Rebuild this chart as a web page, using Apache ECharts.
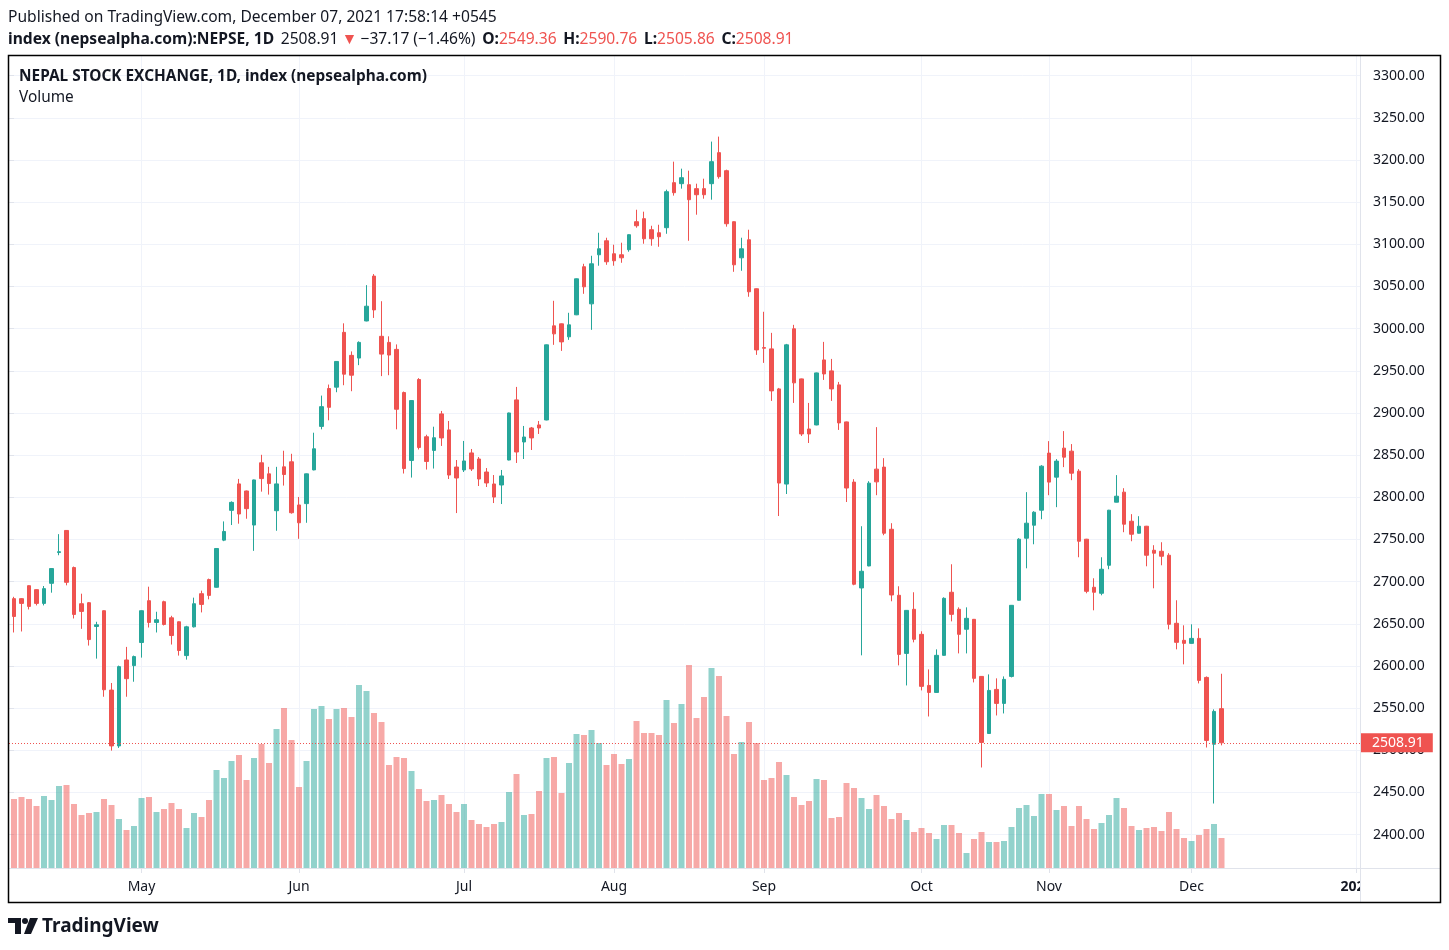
<!DOCTYPE html>
<html><head><meta charset="utf-8">
<script src="https://cdn.jsdelivr.net/npm/echarts@6/dist/echarts.min.js"></script>
<style>html,body{margin:0;padding:0;background:#fff}#c{width:1449px;height:950px}</style>
</head><body><div id="c"></div>
<script>
// ---- categories: trading days (Sun–Thu, NEPSE) ----
const tradingDays = [
  ['2021-04', [6,7,8,11,12,13,15,18,19,20,21,22,25,26,27,28,29]],
  ['2021-05', [2,3,4,5,6,9,10,11,12,13,16,17,18,19,20,23,24,25,27,30,31]],
  ['2021-06', [1,2,3,6,7,8,9,10,13,14,15,16,17,20,21,22,23,24,27,28,29,30]],
  ['2021-07', [1,4,5,6,7,8,11,12,13,14,15,18,19,21,22,25,26,27,28,29]],
  ['2021-08', [1,2,3,4,5,8,9,10,11,12,15,16,17,18,19,24,25,26,29,31]],
  ['2021-09', [1,2,5,6,7,8,12,13,14,15,16,19,20,21,22,23,26,27,28,29,30]],
  ['2021-10', [3,4,5,6,10,11,17,18,19,20,21,24,25,26,27,28,31]],
  ['2021-11', [1,2,8,9,10,11,14,15,16,17,18,21,22,23,24,25,28,29,30]],
  ['2021-12', [1,2,5,6,7]]
];
const futureDays = ['2021-12-08','2021-12-09','2021-12-12','2021-12-13','2021-12-14','2021-12-15','2021-12-16',
  '2021-12-19','2021-12-20','2021-12-21','2021-12-22','2021-12-23','2021-12-26','2021-12-27','2021-12-28',
  '2021-12-29','2021-12-30','2022-01-02'];
const monthNames = ['Jan','Feb','Mar','Apr','May','Jun','Jul','Aug','Sep','Oct','Nov','Dec'];

// ---- OHLC ----
const open = [
2679.8,2679.8,2695.2,2690.5,2674.2,2698.0,2734.5,2760.7,2716.7,2673.8,
2675.0,2646.8,2665.5,2571.4,2505.2,2607.1,2600.4,2627.8,2677.4,2651.6,
2676.2,2657.1,2652.4,2612.3,2646.4,2685.7,2702.4,2693.3,2749.2,2784.5,
2815.9,2807.5,2767.1,2840.9,2827.8,2784.1,2836.1,2842.1,2790.9,2792.5,
2832.5,2884.1,2929.0,2930.6,2995.6,2968.3,2965.1,3009.1,3062.3,2990.9,
2983.7,2975.4,2924.2,2843.7,2939.7,2871.8,2855.6,2898.9,2879.9,2835.9,
2832.4,2852.6,2845.4,2830.0,2815.8,2814.6,2844.2,2915.5,2865.6,2882.2,
2885.8,2891.7,3003.3,3005.7,2990.3,3016.4,3073.4,3029.4,3087.6,3104.2,
3088.8,3087.6,3093.6,3126.8,3130.4,3117.3,3113.7,3119.7,3173.1,3171.9,
3170.7,3166.0,3166.0,3171.9,3208.7,3187.3,3126.8,3084.0,3105.4,3047.3,
2977.5,2976.0,2928.5,2815.7,2999.8,2940.4,2881.0,2885.8,2962.9,2949.9,
2933.3,2889.4,2818.0,2692.5,2718.6,2833.4,2835.8,2762.1,2683.8,2614.9,
2667.2,2637.5,2576.9,2568.6,2612.6,2687.4,2667.2,2643.5,2655.3,2587.6,
2519.9,2572.2,2555.6,2587.6,2677.9,2751.5,2766.9,2784.7,2852.4,2823.9,
2858.3,2854.7,2831.0,2750.3,2693.3,2686.2,2719.4,2794.2,2806.1,2771.6,
2757.4,2765.7,2737.2,2736.0,2731.3,2650.6,2630.4,2626.8,2632.7,2586.4,
2507.2,2549.36];
const close = [
2658.7,2674.2,2670.6,2674.2,2691.7,2715.5,2735.5,2699.2,2661.1,2664.7,
2631.3,2648.8,2571.8,2505.2,2599.2,2584.9,2611.1,2665.5,2651.6,2654.8,
2649.2,2636.1,2618.3,2646.4,2673.8,2673.0,2683.7,2739.3,2759.5,2794.0,
2780.2,2786.5,2820.6,2822.2,2816.3,2815.9,2827.0,2781.7,2769.8,2827.8,
2857.5,2907.5,2906.7,2961.1,2946.0,2944.8,2983.7,3026.6,3022.2,2969.8,
2968.7,2904.4,2834.1,2914.7,2859.1,2842.5,2870.6,2870.4,2826.4,2822.9,
2843.1,2833.6,2821.7,2817.0,2800.3,2825.3,2900.0,2853.7,2871.5,2870.4,
2882.2,2980.8,2993.8,2984.3,3004.5,3059.1,3049.6,3076.9,3094.7,3079.3,
3080.5,3084.0,3111.4,3122.0,3106.6,3106.6,3109.0,3162.4,3161.2,3179.0,
3152.9,3158.8,3158.8,3198.0,3180.2,3124.4,3075.7,3094.7,3043.7,2974.8,
2976.8,2926.2,2816.9,2980.8,2935.7,2875.1,2875.1,2947.5,2946.3,2928.5,
2888.2,2811.0,2696.9,2712.3,2816.8,2818.3,2757.4,2684.2,2613.7,2665.9,
2631.6,2575.8,2568.6,2612.6,2680.2,2661.2,2637.5,2656.5,2585.3,2509.3,
2571.0,2555.6,2584.1,2671.9,2750.3,2769.3,2782.3,2836.9,2818.0,2842.9,
2847.6,2828.6,2747.9,2688.5,2687.4,2714.7,2784.7,2801.3,2768.1,2756.2,
2765.7,2731.3,2733.7,2730.1,2649.4,2628.0,2626.8,2632.7,2582.9,2511.7,
2546.08,2508.91];
const low = [
2639.7,2640.9,2667.0,2671.8,2671.8,2686.9,2731.3,2695.6,2656.3,2644.0,
2624.2,2608.7,2563.5,2499.6,2502.8,2563.5,2581.3,2609.9,2645.6,2639.7,
2648.0,2625.4,2612.3,2607.5,2645.6,2663.5,2679.0,2692.9,2748.0,2767.1,
2768.7,2774.6,2736.5,2806.7,2803.2,2760.3,2813.9,2780.6,2750.8,2769.8,
2832.0,2880.6,2891.3,2924.6,2932.9,2925.8,2956.7,3008.7,3012.7,2943.7,
2944.8,2880.6,2828.2,2823.4,2856.7,2832.9,2834.1,2860.9,2821.7,2781.3,
2830.0,2831.2,2813.4,2812.2,2793.2,2792.0,2843.8,2840.7,2845.4,2856.1,
2875.1,2891.3,2980.8,2973.6,2986.7,3016.0,3041.3,2998.6,3074.6,3075.7,
3074.6,3078.1,3091.2,3119.7,3100.7,3098.3,3097.1,3112.5,3157.7,3166.0,
3104.2,3135.1,3154.1,3152.9,3177.8,3120.9,3067.4,3068.6,3037.8,2968.9,
2959.4,2914.3,2777.8,2803.9,2911.9,2872.7,2864.4,2885.4,2939.2,2914.3,
2879.9,2794.4,2695.7,2612.6,2718.2,2802.5,2755.0,2676.7,2600.7,2576.9,
2628.0,2571.0,2540.1,2568.2,2612.2,2652.9,2614.9,2614.9,2580.5,2479.6,
2519.5,2541.3,2543.7,2586.4,2677.5,2715.8,2744.3,2774.0,2802.5,2788.3,
2835.8,2820.3,2728.9,2686.2,2666.0,2683.8,2714.7,2794.0,2758.6,2747.9,
2757.0,2718.2,2692.1,2719.4,2643.4,2619.7,2601.9,2626.4,2579.3,2503.3,
2436.9,2505.86];
const high = [
2682.0,2680.5,2695.6,2690.9,2694.8,2716.0,2756.3,2761.0,2717.9,2685.7,
2675.8,2652.4,2665.9,2579.8,2600.4,2622.6,2612.3,2666.0,2694.0,2664.3,
2677.4,2659.5,2652.8,2647.6,2681.0,2689.3,2703.6,2739.7,2771.4,2795.2,
2821.8,2808.0,2821.0,2850.4,2836.1,2836.1,2855.2,2851.6,2800.4,2828.2,
2876.6,2920.6,2933.7,2961.5,3006.3,2973.0,2984.9,3051.6,3064.7,3032.5,
2990.9,2981.3,2925.4,2915.1,2941.3,2874.2,2883.7,2902.4,2890.5,2844.2,
2866.8,2857.3,2847.8,2834.7,2826.4,2832.4,2900.4,2930.9,2884.6,2883.4,
2890.5,2981.2,3033.0,3006.1,3018.8,3059.5,3076.9,3086.4,3113.7,3107.8,
3099.5,3101.9,3111.8,3141.0,3138.7,3122.0,3123.2,3164.8,3198.0,3189.7,
3187.3,3171.9,3177.8,3221.8,3227.7,3188.5,3127.2,3107.8,3117.3,3047.7,
3020.0,2995.0,2929.7,2981.9,3004.5,2940.8,2911.9,2947.9,2984.3,2964.1,
2936.8,2889.8,2821.5,2765.7,2819.1,2883.2,2846.4,2769.3,2694.5,2666.3,
2687.4,2641.1,2595.9,2619.7,2681.4,2720.6,2669.5,2669.5,2655.7,2588.0,
2590.0,2585.3,2587.6,2672.3,2751.5,2806.1,2783.5,2838.1,2866.6,2845.3,
2878.5,2863.1,2833.4,2750.7,2704.0,2728.9,2785.1,2826.3,2810.8,2780.0,
2777.6,2766.1,2743.2,2746.7,2733.7,2677.9,2648.2,2649.4,2644.6,2587.6,
2548.5,2590.76];
// ---- volume (relative units) ----
const volume = [
69,71,69,62,72,68,82,83,64,53,
55,56,69,63,49,38,42,70,71,56,
59,65,59,40,55,51,68,98,90,107,
113,88,110,124,105,139,160,128,81,107,
159,162,149,159,160,151,183,177,155,146,
103,111,110,97,79,67,68,73,64,56,
64,48,44,41,44,46,76,94,53,54,
77,110,111,75,105,134,133,138,125,103,
114,104,109,147,135,135,133,168,145,164,
203,150,171,200,192,152,114,126,146,125,
88,90,106,93,71,63,67,89,88,50,
51,85,80,70,59,73,62,49,55,48,
36,40,35,29,43,43,35,15,29,36,
26,26,27,41,60,63,52,74,74,58,
62,42,62,49,39,45,53,70,60,42,
38,40,41,37,56,39,30,27,33,39,
44,30];
// ---- price axis ticks ----
const priceMin = 2350, priceMax = 3350, priceStep = 50;

const UP = '#26A69A', DOWN = '#EF5350';
const UP_V = 'rgba(38,166,154,0.5)', DOWN_V = 'rgba(239,83,80,0.5)';
const TXT = '#131722', GRID = '#F0F3FA', LINE = '#E0E3EB';
const FONT = "'Noto Sans', sans-serif";

const dates = tradingDays.flatMap(([m, ds]) => ds.map(d => m + '-' + String(d).padStart(2, '0'))).concat(futureDays);
const isMonthStart = i => i > 0 && dates[i].slice(0, 7) !== dates[i - 1].slice(0, 7);
const candles = open.map((o, i) => [o, close[i], low[i], high[i]]);
const vols = volume.map((v, i) => ({ value: v, itemStyle: { color: close[i] >= open[i] ? UP_V : DOWN_V } }));
const n = close.length;
const lastC = close[n - 1], prevC = close[n - 2];
const chg = lastC - prevC, pct = chg / prevC * 100;
const fmt = v => v.toFixed(2);
const neg = v => (v < 0 ? '\u2212' : '+') + Math.abs(v).toFixed(2);

// plot geometry
const step = 7.5, firstX = 14, plotL = 9, plotR = 1360, plotT = 56, plotB = 868;
const lastX = firstX + (dates.length - 1) * step;
// price pixel scale: 2800 at y=497.3, 0.8433 px per point
const pxPer = 0.8433, refP = 2800, refY = 497.3;
const yOf = p => refY - (p - refP) * pxPer;
const pAtY = y => refP - (y - refY) / pxPer;

const HF = '15.6px ' + FONT, HFB = 'bold 15.6px ' + FONT;

const chart = echarts.init(document.getElementById('c'));
chart.setOption({
  backgroundColor: '#fff',
  animation: false,
  grid: [
    { left: firstX, right: 1449 - lastX, top: plotT, height: plotB - plotT, containLabel: false },
    { left: plotL, right: 1449 - plotR, top: yOf(priceMax), height: yOf(priceMin) - yOf(priceMax), containLabel: false }
  ],
  xAxis: [
    { type: 'category', gridIndex: 0, data: dates, boundaryGap: false,
      axisLine: { show: false },
      axisTick: { show: true, length: 5, lineStyle: { color: LINE }, interval: (i) => isMonthStart(i) },
      axisLabel: { interval: (i) => isMonthStart(i), margin: 12, color: TXT, fontSize: 14, fontFamily: FONT,
        formatter: (v) => { const m = +v.slice(5, 7); return m === 1 ? '{y|' + v.slice(0, 4) + '}' : monthNames[m - 1]; },
        rich: { y: { fontWeight: 'bold', color: TXT, fontSize: 14, fontFamily: FONT } } },
      splitLine: { show: true, interval: (i) => isMonthStart(i), lineStyle: { color: GRID, width: 1 } } },
    { type: 'value', gridIndex: 1, min: 0, max: 1, show: false }
  ],
  yAxis: [
    { type: 'value', gridIndex: 0, min: pAtY(plotB), max: pAtY(plotT), show: false, splitLine: { show: false } },
    { type: 'value', gridIndex: 1, position: 'right', min: priceMin, max: priceMax, interval: priceStep,
      axisLine: { show: false },
      axisTick: { show: true, length: 5, lineStyle: { color: LINE } },
      axisLabel: { showMinLabel: false, showMaxLabel: false, margin: 13, color: TXT, fontSize: 14, fontFamily: FONT,
        padding: [3, 0, 0, 0], formatter: (v) => fmt(v) },
      splitLine: { show: true, showMinLine: false, showMaxLine: false, lineStyle: { color: GRID, width: 1 } } },
    { type: 'value', gridIndex: 0, min: 0, max: plotB - plotT, show: false, splitLine: { show: false } }
  ],
  series: [
    { type: 'bar', xAxisIndex: 0, yAxisIndex: 2, data: vols, barWidth: 6, clip: false, z: 1, silent: true },
    { type: 'candlestick', xAxisIndex: 0, yAxisIndex: 0, data: candles, barWidth: 4, clip: false, z: 3, silent: true,
      itemStyle: { color: UP, color0: DOWN, borderColor: UP, borderColor0: DOWN, borderWidth: 1 } },
    { type: 'line', xAxisIndex: 1, yAxisIndex: 1, data: [[0, lastC]], symbol: 'none', showSymbol: false,
      lineStyle: { opacity: 0 }, silent: true, z: 4,
      markLine: { silent: true, symbol: ['none', 'none'], animation: false,
        lineStyle: { color: DOWN, type: [1, 2], width: 1 },
        label: { show: true, position: 'end', distance: 0, formatter: fmt(lastC), backgroundColor: DOWN, color: '#fff',
          fontSize: 14, fontFamily: FONT, padding: [3, 9, 2, 12] },
        data: [{ yAxis: lastC }] } }
  ],
  graphic: [
    // header
    { type: 'text', left: 8, top: 10, z: 50, style: { text: 'Published on TradingView.com, December 07, 2021 17:58:14 +0545',
      font: HF, fill: TXT } },
    { type: 'text', left: 8, top: 32, z: 50, style: {
      text: '{b|index (nepsealpha.com):NEPSE, 1D}  {n|' + fmt(lastC) + '} {r|\u25BC} {n|' + neg(chg) + ' (' + neg(pct) + '%)}  ' +
        '{b|O:}{r|' + fmt(open[n - 1]) + '}  {b|H:}{r|' + fmt(high[n - 1]) + '}  {b|L:}{r|' + fmt(low[n - 1]) + '}  {b|C:}{r|' + fmt(lastC) + '}',
      rich: { b: { font: HFB, fill: TXT }, n: { font: HF, fill: TXT }, r: { font: HF, fill: DOWN } } } },
    // legend text inside chart
    { type: 'text', left: 19, top: 69, z: 50, style: { text: 'NEPAL STOCK EXCHANGE, 1D, index (nepsealpha.com)', font: 'bold 15.4px ' + FONT, fill: TXT } },
    { type: 'text', left: 19, top: 90, z: 50, style: { text: 'Volume', font: '15.4px ' + FONT, fill: TXT } },
    // masks for overflow
    { type: 'rect', z: 60, shape: { x: 1361, y: 869, width: 79, height: 33 }, style: { fill: '#fff' } },
    { type: 'rect', z: 60, shape: { x: 1355, y: 25, width: 20, height: 18 }, style: { fill: '#fff' } },
    // separators
    { type: 'line', z: 70, shape: { x1: 1360.5, y1: 56, x2: 1360.5, y2: 902 }, style: { stroke: LINE, lineWidth: 1 } },
    { type: 'line', z: 70, shape: { x1: 9, y1: 868.5, x2: 1440, y2: 868.5 }, style: { stroke: LINE, lineWidth: 1 } },
    // frame
    { type: 'rect', z: 80, shape: { x: 8.5, y: 55.5, width: 1432, height: 847 }, style: { fill: 'none', stroke: '#000', lineWidth: 1.5 } },
    // logo
    { type: 'rect', z: 80, shape: { x: 8, y: 918, width: 13, height: 5 }, style: { fill: TXT } },
    { type: 'rect', z: 80, shape: { x: 15, y: 918, width: 6, height: 16 }, style: { fill: TXT } },
    { type: 'circle', z: 80, shape: { cx: 25, cy: 921, r: 3 }, style: { fill: TXT } },
    { type: 'polygon', z: 80, shape: { points: [[30, 918], [38, 918], [31, 934], [24, 934]] }, style: { fill: TXT } },
    { type: 'text', left: 42, top: 917, z: 80, style: { text: 'TradingView', font: 'bold 19px ' + FONT, fill: TXT } }
  ]
});
</script></body></html>
